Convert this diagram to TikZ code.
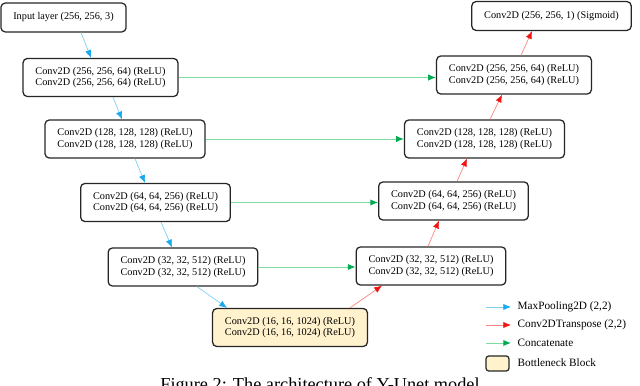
\documentclass[tikz,border=0pt]{standalone}
\usepackage{fontspec}
\setmainfont{Liberation Serif}
\usetikzlibrary{arrows.meta,calc}

\definecolor{poolhead}{RGB}{25,170,235}
\definecolor{poolline}{RGB}{130,205,240}
\definecolor{uphead}{RGB}{240,20,20}
\definecolor{upline}{RGB}{250,135,125}
\definecolor{cathead}{RGB}{0,170,80}
\definecolor{catline}{RGB}{125,220,160}
\definecolor{neckfill}{RGB}{255,242,204}

\begin{document}
\begin{tikzpicture}[x=0.025cm,y=-0.025cm]
  \tikzstyle{layer}=[draw=black!85,line width=0.9pt,rounded corners=3pt,align=center,
    inner xsep=0.31cm,minimum height=0.95cm,font=\fontsize{7.3}{8.3}\selectfont]
  \tikzstyle{io}=[layer,minimum height=0.72cm]
  \tikzstyle{pool}=[draw=poolline,line width=0.5pt,-{Latex[color=poolhead,length=5.5pt,width=4.5pt]}]
  \tikzstyle{up}=[draw=upline,line width=0.5pt,-{Latex[color=uphead,length=5.5pt,width=4.5pt]}]
  \tikzstyle{cat}=[draw=catline,line width=0.7pt,-{Latex[color=cathead,length=5.5pt,width=4.5pt]}]
  \tikzstyle{legend}=[anchor=west,font=\fontsize{8}{9}\selectfont,inner sep=1pt]
  \useasboundingbox (0,0) rectangle (640,386);

  % encoder
  \node[io] (in) at (63.5,17.5) {Input layer (256, 256, 3)};
  \node[layer] (e1) at (100.5,77.5) {Conv2D (256, 256, 64) (ReLU)\\Conv2D (256, 256, 64) (ReLU)};
  \node[layer] (e2) at (125,139) {Conv2D (128, 128, 128) (ReLU)\\Conv2D (128, 128, 128) (ReLU)};
  \node[layer] (e3) at (155.5,202.5) {Conv2D (64, 64, 256) (ReLU)\\Conv2D (64, 64, 256) (ReLU)};
  \node[layer] (e4) at (183,267) {Conv2D (32, 32, 512) (ReLU)\\Conv2D (32, 32, 512) (ReLU)};
  \node[layer,fill=neckfill] (b) at (290,327.5) {Conv2D (16, 16, 1024) (ReLU)\\Conv2D (16, 16, 1024) (ReLU)};
  % decoder
  \node[layer] (d4) at (431,266) {Conv2D (32, 32, 512) (ReLU)\\Conv2D (32, 32, 512) (ReLU)};
  \node[layer] (d3) at (453.5,201) {Conv2D (64, 64, 256) (ReLU)\\Conv2D (64, 64, 256) (ReLU)};
  \node[layer] (d2) at (484.5,139) {Conv2D (128, 128, 128) (ReLU)\\Conv2D (128, 128, 128) (ReLU)};
  \node[layer] (d1) at (514,75) {Conv2D (256, 256, 64) (ReLU)\\Conv2D (256, 256, 64) (ReLU)};
  \node[io] (out) at (551.5,16) {Conv2D (256, 256, 1) (Sigmoid)};

  % max pooling
  \draw[pool] ($(in.south)+(17.5,0)$) -- ($(e1.north)+(-9.5,0)$);
  \draw[pool] ($(e1.south)+(12.5,0)$) -- ($(e2.north)+(-3,0)$);
  \draw[pool] ($(e2.south)+(10,0)$) -- ($(e3.north)+(-10.5,0)$);
  \draw[pool] ($(e3.south)+(5.5,0)$) -- ($(e4.north)+(-11,0)$);
  \draw[pool] ($(e4.south)+(14,0)$) -- ($(b.north)+(-63,0)$);
  % transpose conv
  \draw[up] ($(b.north)+(60,0)$) -- ($(d4.south)+(-49,0)$);
  \draw[up] ($(d4.north)+(-3,0)$) -- ($(d3.south)+(-14.5,0)$);
  \draw[up] ($(d3.north)+(3.5,0)$) -- ($(d2.south)+(-17.5,0)$);
  \draw[up] ($(d2.north)+(5.5,0)$) -- ($(d1.south)+(-12,0)$);
  \draw[up] ($(d1.north)+(7,0)$) -- ($(out.south)+(-19.5,0)$);
  % skip connections
  \draw[cat] (e1.east) -- (e1.east -| d1.west);
  \draw[cat] (e2.east) -- (e2.east -| d2.west);
  \draw[cat] (e3.east) -- (e3.east -| d3.west);
  \draw[cat] (e4.east) -- (e4.east -| d4.west);

  % legend
  \coordinate (k1) at (486,307);
  \coordinate (k2) at (486,325);
  \coordinate (k3) at (486,343);
  \node[legend] (t1) at (516,307) {MaxPooling2D (2,2)};
  \node[legend] (t2) at (516,325) {Conv2DTranspose (2,2)};
  \node[legend] (t3) at (516,343) {Concatenate};
  \node[legend] (t4) at (516,363) {Bottleneck Block};
  \draw[pool] (k1) -- ($(t1.west)+(-5,0)$);
  \draw[up] (k2) -- ($(t2.west)+(-5,0)$);
  \draw[cat] (k3) -- ($(t3.west)+(-5,0)$);
  \draw[draw=black!85,line width=0.9pt,rounded corners=2pt,fill=neckfill] (486,356) rectangle (509,371);

  \node[anchor=north,font=\fontsize{13}{15}\selectfont] (cap) at (320,373) {Figure 2: The architecture of Y-Unet model};
\end{tikzpicture}
\end{document}
